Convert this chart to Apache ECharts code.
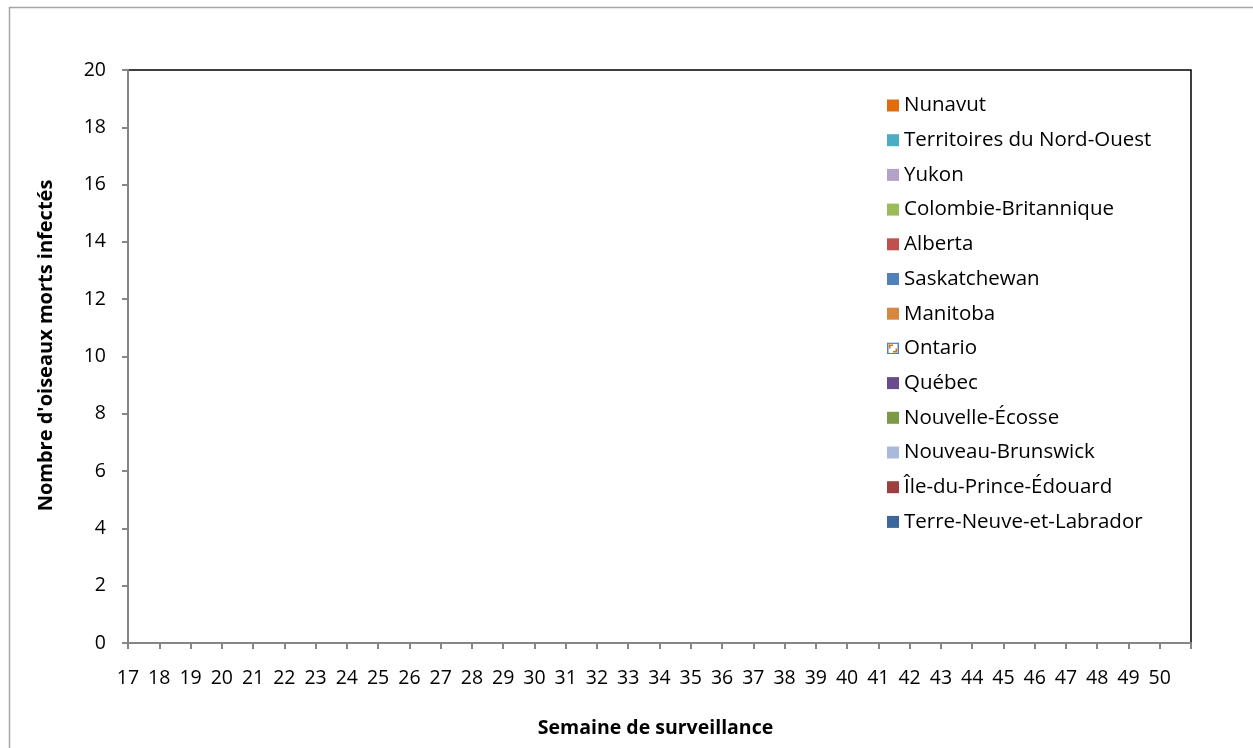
<!DOCTYPE html>
<html>
<head>
<meta charset="utf-8">
<script src="https://cdn.jsdelivr.net/npm/echarts@6/dist/echarts.min.js"></script>
<style>
  html, body { margin: 0; padding: 0; background: #fff; }
  #chart { width: 1253px; height: 748px; }
</style>
</head>
<body>
<div id="chart"></div>
<script>
    let chart = echarts.init(document.getElementById("chart"));

    // semaines de surveillance
    const weeks = ["17", "18", "19", "20", "21", "22", "23", "24", "25", "26", "27", "28", "29", "30", "31", "32", "33",
        "34", "35", "36", "37", "38", "39", "40", "41", "42", "43", "44", "45", "46", "47", "48", "49", "50"]

    const provinces = ["Nunavut", "Territoires du Nord-Ouest", "Yukon", "Colombie-Britannique", "Alberta", "Saskatchewan",
        "Manitoba", "Ontario", "Québec", "Nouvelle-Écosse", "Nouveau-Brunswick", "Île-du-Prince-Édouard", "Terre-Neuve-et-Labrador"]

    const province_colors = ["#E36C0A", "#4BACC6", "#B2A2C7", "#9BBB59", "#C0504D", "#4F81BD",
        "#D8873F", "#FFFFFF", "#6A4B8E", "#7A9A45", "#A9B9DA", "#A03D3D", "#3C679C"]

    // aucun oiseau mort infecté signalé : toutes les semaines à 0
    const no_cases = [0, 0, 0, 0, 0, 0, 0, 0, 0, 0, 0, 0, 0, 0, 0, 0, 0, 0, 0, 0, 0, 0, 0, 0, 0, 0, 0, 0, 0, 0, 0, 0, 0, 0]

    const y_min = 0
    const y_max = 20
    const y_step = 2

    const ontario_icon = 'image://data:image/svg+xml;utf8,' + encodeURIComponent(
        '<svg xmlns="http://www.w3.org/2000/svg" width="12" height="12">' +
        '<rect x="0.75" y="0.75" width="10.5" height="10.5" fill="#fff" stroke="#4F81BD" stroke-width="1.5"/>' +
        '<path d="M2 2 H6 V3.5 H3.5 V6 H2 Z" fill="#E36C0A"/>' +
        '<path d="M10 10 H6 V8.5 H8.5 V6 H10 Z" fill="#E36C0A"/></svg>')

    const font = "'Open Sans', 'Noto Sans', sans-serif"

    // largeur d'une catégorie, pour décaler les étiquettes sur les graduations
    const cat_width = (1253 - 128 - 62) / weeks.length

    let option = {
        animation: false,
        textStyle: {fontFamily: font},
        graphic: [
            {
                type: 'rect',
                left: 7, top: 5,
                shape: {width: 1300, height: 800},
                style: {fill: 'none', stroke: '#A6A6A6', lineWidth: 1.5},
                silent: true
            }
        ],
        grid: {
            left: 128, right: 62, top: 70, bottom: 105,
            show: true,
            borderColor: '#000',
            borderWidth: 1.5
        },
        legend: {
            orient: 'vertical',
            left: 882, top: 90,
            itemWidth: 12, itemHeight: 12,
            itemGap: 13.7,
            textStyle: {fontSize: 20.5, lineHeight: 20, color: '#000', fontFamily: font, padding: [0, 0, 0, 0]},
            data: provinces.map((name) => {
                return name === 'Ontario' ? {name: name, icon: ontario_icon} : {name: name, icon: 'rect'}
            })
        },
        xAxis: {
            type: 'category',
            data: weeks,
            name: 'Semaine de surveillance',
            nameLocation: 'middle',
            nameGap: 75,
            nameTextStyle: {fontSize: 19.5, fontWeight: 'bold', color: '#000', padding: [0, 8, 0, 0]},
            axisLine: {lineStyle: {color: '#868686', width: 2}},
            axisTick: {show: true, length: 6, lineStyle: {color: '#868686', width: 2}},
            axisLabel: {fontSize: 19.5, color: '#000', margin: 25, padding: [0, cat_width, 0, 0]}
        },
        yAxis: {
            type: 'value',
            min: y_min, max: y_max, interval: y_step,
            name: "Nombre d'oiseaux morts infectés",
            nameLocation: 'middle',
            nameGap: 72,
            nameTextStyle: {fontSize: 20, fontWeight: 'bold', color: '#000', padding: [0, 0, 0, 22]},
            splitLine: {show: false},
            axisLine: {show: true, lineStyle: {color: '#868686', width: 2}},
            axisTick: {show: true, length: 6, lineStyle: {color: '#868686', width: 2}},
            axisLabel: {fontSize: 19.5, color: '#000', margin: 22}
        },
        series: provinces.map((name, i) => {
            return {
                name: name,
                type: 'bar',
                stack: 'total',
                barCategoryGap: '50%',
                data: no_cases,
                itemStyle: {color: province_colors[i]}
            }
        })
    };

    chart.setOption(option);
</script>
</body>
</html>
